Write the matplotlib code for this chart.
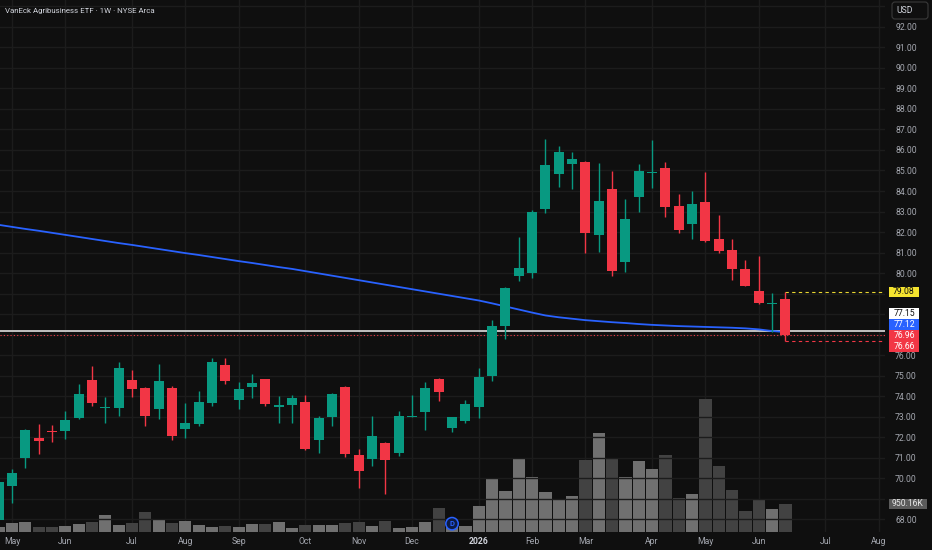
import matplotlib
matplotlib.use("Agg")
import matplotlib.pyplot as plt
import numpy as np
import pandas as pd
from matplotlib.patches import Rectangle, Circle, FancyBboxPatch

# ---------------- data ----------------
title = "VanEck Agribusiness ETF \u00b7 1W \u00b7 NYSE Arca"
start_week = "2025-04-28"
opens = [67.95, 69.61, 70.98, 71.94, 72.26, 72.29, 72.93, 74.77, 73.40, 73.43,
         74.77, 74.40, 73.35, 74.38, 72.38, 72.65, 73.67, 75.50, 73.80, 74.44,
         74.83, 73.45, 73.55, 73.73, 71.87, 72.99, 74.42, 71.12, 70.94, 71.72,
         71.23, 72.99, 73.22, 74.85, 72.45, 72.78, 73.46, 74.98, 77.43, 79.87,
         80.01, 83.11, 84.83, 85.30, 85.41, 81.87, 84.08, 80.52, 83.69, 84.88,
         85.12, 83.27, 82.38, 83.48, 81.67, 81.12, 80.18, 79.14, 78.47, 78.75]
highs = [69.85, 70.42, 72.40, 72.63, 72.59, 73.28, 74.57, 75.46, 73.94, 75.64,
         75.27, 74.45, 75.56, 74.49, 73.64, 74.26, 75.84, 75.84, 74.70, 75.07,
         74.85, 74.00, 74.05, 74.05, 73.02, 74.16, 74.49, 71.40, 73.02, 71.75,
         73.28, 74.06, 74.67, 74.88, 73.00, 73.80, 75.35, 77.71, 79.30, 81.74,
         83.07, 86.54, 86.20, 85.89, 85.45, 85.38, 84.99, 83.61, 85.30, 86.49,
         85.41, 83.85, 84.00, 84.91, 82.83, 81.66, 80.63, 80.83, 79.01, 79.08]
lows = [67.70, 68.77, 70.47, 71.16, 71.74, 71.89, 72.86, 73.51, 72.67, 73.04,
        73.94, 72.55, 72.88, 71.85, 71.97, 72.55, 73.51, 74.59, 73.35, 73.89,
        73.51, 72.70, 72.70, 71.38, 71.23, 72.54, 71.04, 69.50, 70.60, 69.22,
        71.09, 72.98, 72.34, 73.77, 72.26, 72.67, 72.91, 74.75, 76.76, 79.61,
        79.74, 82.94, 84.21, 84.11, 80.99, 81.04, 79.87, 80.03, 82.99, 84.16,
        82.75, 81.94, 81.67, 81.50, 80.99, 79.66, 79.36, 78.50, 77.12, 76.66]
closes = [69.82, 70.23, 72.34, 71.80, 72.22, 72.83, 74.10, 73.67, 73.45, 75.35,
          74.34, 73.02, 74.72, 72.05, 72.70, 73.69, 75.66, 74.72, 74.36, 74.62,
          73.61, 73.56, 73.89, 71.41, 72.93, 74.08, 71.17, 70.33, 72.07, 70.88,
          73.02, 73.03, 74.39, 74.21, 72.96, 73.60, 74.91, 77.41, 79.28, 80.26,
          82.99, 85.25, 85.89, 85.56, 81.96, 83.51, 80.11, 82.63, 84.99, 84.93,
          83.24, 82.10, 83.37, 81.58, 81.09, 80.20, 79.38, 78.52, 78.52, 76.96]
volumes_k = [180, 305, 330, 160, 160, 195, 280, 350, 585, 240,
             315, 690, 405, 305, 375, 240, 170, 215, 170, 270,
             280, 340, 145, 250, 225, 250, 295, 330, 215, 365,
             135, 180, 330, 815, 170, 215, 880, 1790, 1400, 2520,
             1875, 1345, 1130, 1210, 2435, 3360, 2465, 1855, 2410, 2130,
             2625, 1145, 1280, 4505, 2250, 1415, 700, 1130, 770, 950.16]
ma_values = [82.35, 82.25, 82.15, 82.06, 81.96, 81.86, 81.76, 81.66, 81.56, 81.46,
             81.37, 81.27, 81.17, 81.07, 80.97, 80.88, 80.78, 80.68, 80.58, 80.49,
             80.39, 80.29, 80.20, 80.09, 79.98, 79.87, 79.76, 79.65, 79.54, 79.43,
             79.32, 79.21, 79.10, 78.99, 78.88, 78.77, 78.66, 78.52, 78.37, 78.22,
             78.07, 77.93, 77.84, 77.77, 77.70, 77.65, 77.60, 77.56, 77.51, 77.47,
             77.44, 77.41, 77.39, 77.37, 77.35, 77.33, 77.30, 77.25, 77.17, 77.12]
prev_close = 77.15
dividend_weeks = ["2025-12-22"]
price_ticks = list(range(68, 93))

# ---------------- style ----------------
BG = "#0f0f0f"
GRID = "#1c1c1c"
UP = "#089981"
DOWN = "#f23645"
VOL_UP = "#707070"
VOL_DOWN = "#424242"
TXT = "#a4a7af"
FONT = "Roboto"
plt.rcParams["font.family"] = [FONT, "DejaVu Sans"]

W, H = 932, 550
fig = plt.figure(figsize=(W / 100, H / 100), dpi=100, facecolor=BG)
rect = [0, 18 / H, 885 / W, 532 / H]

n = len(opens)
x = np.arange(n)
o = np.array(opens); c = np.array(closes)
hi = np.array(highs); lo = np.array(lows)
up = c >= o

# weekly calendar incl. empty future space
weeks = pd.date_range(start_week, periods=67, freq="W-MON")
tick_pos, tick_lab = [], []
for i in range(1, len(weeks)):
    if weeks[i].month != weeks[i - 1].month:
        tick_pos.append(i)
        tick_lab.append(str(weeks[i].year) if weeks[i].month == 1 else weeks[i].strftime("%b"))

XL = (0.1, 66.47)
YL = (67.366, 93.317)

# volume axis (below)
axv = fig.add_axes(rect)
axv.set_facecolor(BG)
axv.bar(x, volumes_k, width=0.92, color=np.where(up, VOL_UP, VOL_DOWN), zorder=2)
axv.set_ylim(0, 950.16 * 532 / 28)
axv.set_xlim(*XL)
axv.set_yticks([])
for t in tick_pos:
    axv.axvline(t, color=GRID, lw=1, zorder=0)
axv.set_xticks(tick_pos)
axv.set_xticklabels(tick_lab)
axv.tick_params(axis="x", length=0, pad=3.5, labelsize=6.2, labelcolor=TXT)
for lab in axv.get_xticklabels():
    if lab.get_text().isdigit():
        lab.set_fontweight("bold")
        lab.set_color("#d1d4dc")
for s in axv.spines.values():
    s.set_visible(False)

# price axis (top)
ax = fig.add_axes(rect, sharex=axv)
ax.set_zorder(axv.get_zorder() + 1)
ax.patch.set_alpha(0)
ax.set_ylim(*YL)
for p in price_ticks + [93]:
    ax.axhline(p, color=GRID, lw=1, zorder=0)
ax.yaxis.tick_right()
ax.set_yticks(price_ticks)
ax.tick_params(axis="y", length=0, pad=7.3, labelsize=6.2, labelcolor=TXT)
ax.tick_params(axis="x", bottom=False, labelbottom=False)
for s in ax.spines.values():
    s.set_visible(False)

# moving average
ax.plot(x, ma_values, color="#2962ff", lw=1.3, zorder=3)

# horizontal reference lines
ax.axhline(prev_close, color="#cfcfcf", lw=1.3, zorder=2)
ax.axhline(closes[-1], color=DOWN, lw=0.8, ls=(0, (1, 2)), zorder=2)
ax.hlines(highs[-1], x[-1], XL[1], color="#e8d630", lw=0.8, ls=(0, (3, 3)), zorder=2)
ax.hlines(lows[-1], x[-1], XL[1], color=DOWN, lw=0.8, ls=(0, (3, 3)), zorder=2)

# candles
col = np.where(up, UP, DOWN)
ax.vlines(x, lo, hi, colors=col, lw=1, zorder=4)
body_h = np.maximum(np.abs(c - o), 0.05)
ax.bar(x, body_h, bottom=np.minimum(o, c), width=0.74, color=col, zorder=5)

# dividend marker
for d in dividend_weeks:
    di = int(np.argmin(np.abs(weeks[:n] - pd.Timestamp(d))))
    px = ax.transData.transform((di, YL[0]))[0]
    fig.patches.append(Circle((px, 18 + 8.3), 6.2, transform=None,
                              facecolor="#0d1b44", edgecolor="#2962ff", lw=1.1, zorder=6))
    fig.text(px / W, (18 + 8.3) / H, "D", color="#2962ff", fontsize=5.5, fontweight="bold",
             ha="center", va="center", zorder=7)

# title
fig.text(5 / W, 1 - 11 / H, title, color="#d1d4dc", fontsize=5.7, ha="left", va="center")

# USD box
fig.patches.append(FancyBboxPatch((892, H - 19), 36, 17, boxstyle="round,pad=0,rounding_size=3",
                                  transform=None, facecolor=BG, edgecolor="#3a3a3a", lw=0.8))
fig.text(905 / W, 1 - 10.5 / H, "USD", color="#d1d4dc", fontsize=6.2, ha="center", va="center")

# price labels on the scale
def y_of(v):
    return ax.transData.transform((0, v))[1]

def box(ypix, txt, fc, tc, x0=889, x1=919, h=10.6):
    fig.patches.append(Rectangle((x0, ypix - h / 2), x1 - x0, h, transform=None,
                                 facecolor=fc, edgecolor="none", zorder=5))
    fig.text((x0 + x1) / 2 / W, ypix / H, txt, color=tc, fontsize=6.2,
             ha="center", va="center", zorder=6)

labels = [(highs[-1], "#f5e42f", "#111111"),
          (prev_close, "#ffffff", "#111111"),
          (ma_values[-1], "#2962ff", "#ffffff"),
          (closes[-1], DOWN, "#ffffff"),
          (lows[-1], DOWN, "#ffffff")]
labels.sort(key=lambda t: -t[0])
anchor = [t[0] for t in labels].index(closes[-1])
ys = [y_of(t[0]) for t in labels]
pos = ys[:]
step = 11
for k in range(anchor - 1, -1, -1):
    pos[k] = max(ys[k], pos[k + 1] + step)
for k in range(anchor + 1, len(labels)):
    pos[k] = min(ys[k], pos[k - 1] - step)
box_centers = list(pos)
for (v, fc, tc), yp in zip(labels, pos):
    box(yp, f"{v:.2f}", fc, tc)

# volume label
vy = axv.transData.transform((0, volumes_k[-1]))[1]
box_centers.append(vy)
box(vy, f"{volumes_k[-1]:.2f}K", "#5b5b5b", "#e6e6e6", x0=889, x1=927)

# price-scale tick labels hidden under the value boxes are not shown
tick_texts = []
for p in price_ticks:
    yp = y_of(p)
    hidden = any(abs(yp - b) < 7.5 for b in box_centers)
    tick_texts.append("" if hidden else f"{p:.2f}")
ax.set_yticklabels(tick_texts)

fig.savefig("out.png", dpi=100, facecolor=BG)
